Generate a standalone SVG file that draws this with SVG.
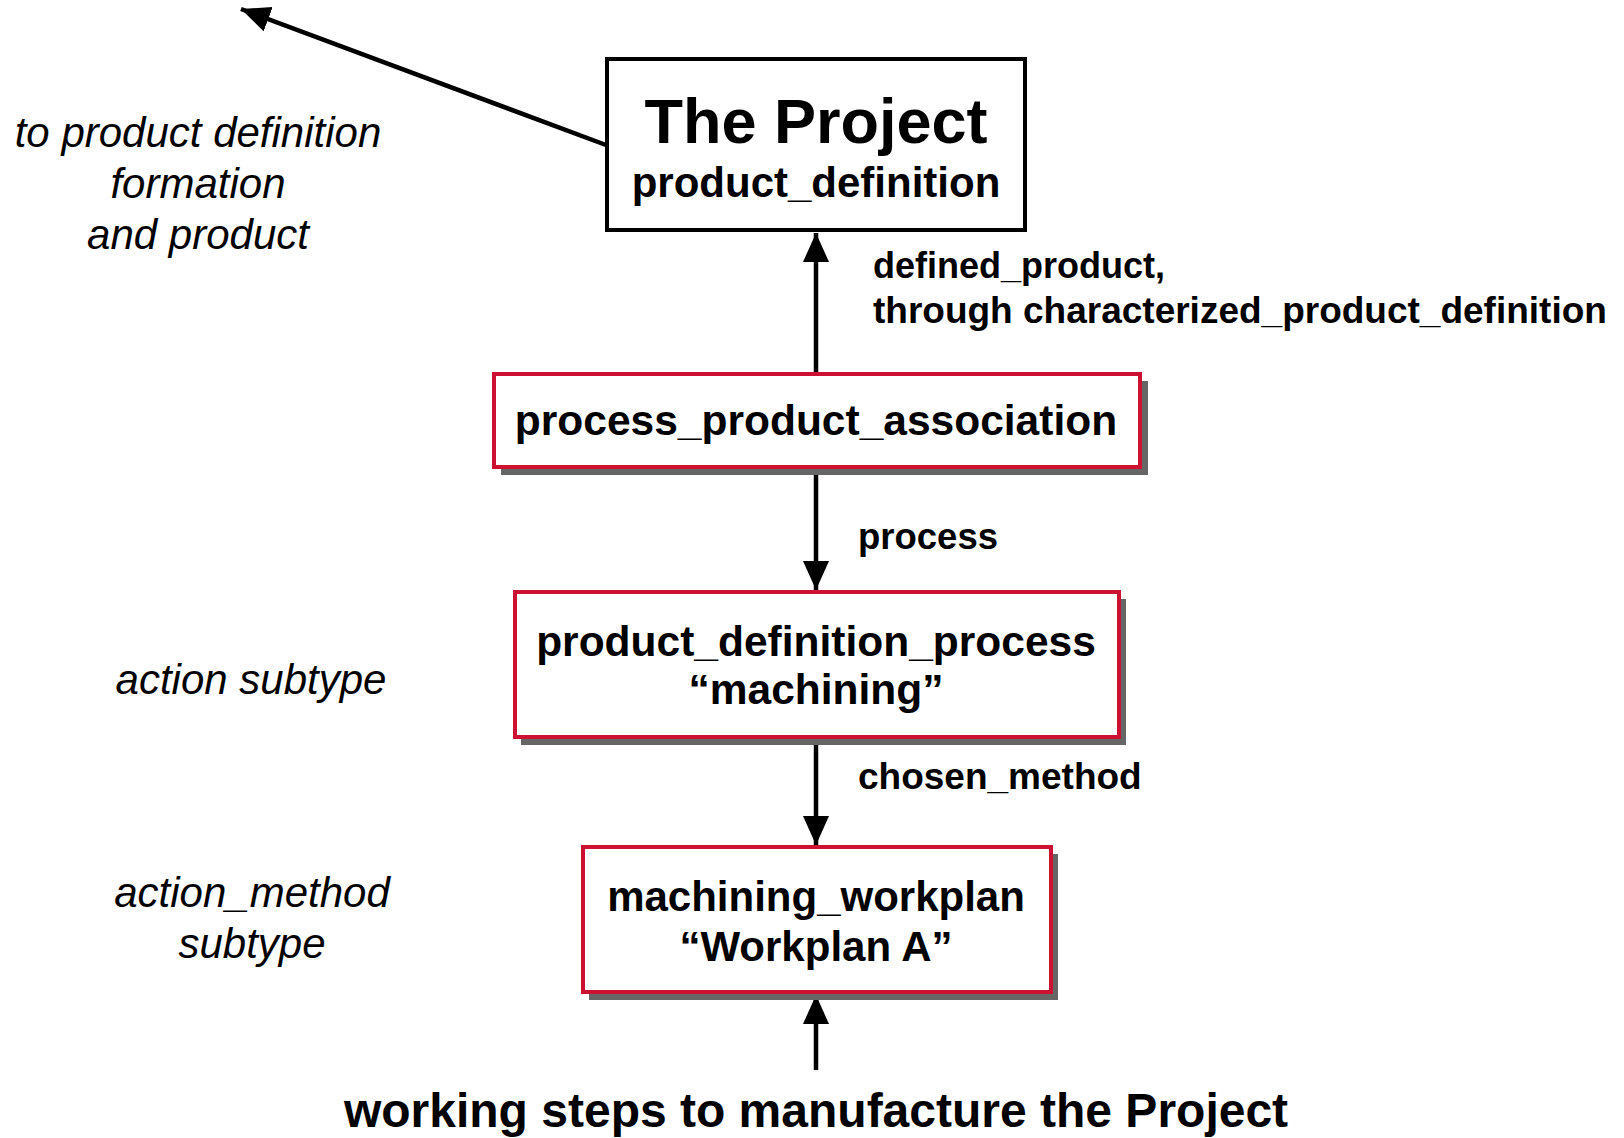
<svg xmlns="http://www.w3.org/2000/svg" width="1624" height="1138" viewBox="0 0 1624 1138">
<style>
.b{font-family:"Liberation Sans",Arial,sans-serif;font-weight:bold;fill:#000}
.i{font-family:"Liberation Sans",Arial,sans-serif;font-style:italic;fill:#000}
.c{text-anchor:middle}
.box{fill:#fff;stroke:#cc1133;stroke-width:4}
.main{fill:#fff;stroke:#000;stroke-width:4}
.sh{fill:#666}
.ln{stroke:#000;stroke-width:4.5;fill:none}
</style>
<defs>
<marker id="ah" markerUnits="userSpaceOnUse" markerWidth="32" markerHeight="28" refX="29" refY="13" orient="auto">
<path d="M0,0 L29,13 L0,26 z" fill="#000"/>
</marker>
</defs>
<rect width="1624" height="1138" fill="#fff"/>
<g id="connectors">
<line class="ln" x1="606" y1="145" x2="241" y2="9" marker-end="url(#ah)"/>
<line class="ln" x1="816" y1="372" x2="816" y2="233" marker-end="url(#ah)"/>
<line class="ln" x1="816" y1="468" x2="816" y2="590" marker-end="url(#ah)"/>
<line class="ln" x1="816" y1="738" x2="816" y2="845" marker-end="url(#ah)"/>
<line class="ln" x1="816" y1="1070" x2="816" y2="995" marker-end="url(#ah)"/>
</g>
<g id="labels">
<text class="b" x="873" y="278" font-size="36">defined_product,</text>
<text class="b" x="873" y="323" font-size="37">through characterized_product_definition</text>
<text class="b" x="858" y="549" font-size="36.5">process</text>
<text class="b" x="858" y="789" font-size="37">chosen_method</text>
<text class="i c" x="198" y="147" font-size="42">to product definition</text>
<text class="i c" x="198" y="198" font-size="42">formation</text>
<text class="i c" x="198" y="249" font-size="42">and product</text>
<text class="i c" x="251" y="694" font-size="42">action subtype</text>
<text class="i c" x="252" y="907" font-size="42">action_method</text>
<text class="i c" x="252" y="958" font-size="42">subtype</text>
<text class="b c" x="816" y="1127" font-size="48">working steps to manufacture the Project</text>
</g>
<g id="node-project">
<rect class="main" x="607" y="59" width="418" height="171"/>
<text class="b c" x="816" y="143" font-size="63">The Project</text>
<text class="b c" x="816" y="197" font-size="42">product_definition</text>
</g>
<g id="node-ppa">
<rect class="sh" x="501" y="381" width="647" height="94"/>
<rect class="box" x="494" y="374" width="646" height="93"/>
<text class="b c" x="816" y="435" font-size="42.5">process_product_association</text>
</g>
<g id="node-pdp">
<rect class="sh" x="521" y="599" width="605" height="146"/>
<rect class="box" x="515" y="592" width="604" height="145"/>
<text class="b c" x="816" y="656" font-size="42.5">product_definition_process</text>
<text class="b c" x="816" y="704" font-size="42.5">“machining”</text>
</g>
<g id="node-mw">
<rect class="sh" x="589" y="854" width="469" height="146"/>
<rect class="box" x="583" y="847" width="468" height="145"/>
<text class="b c" x="816" y="911" font-size="42">machining_workplan</text>
<text class="b c" x="816" y="961" font-size="42">“Workplan A”</text>
</g>
</svg>
